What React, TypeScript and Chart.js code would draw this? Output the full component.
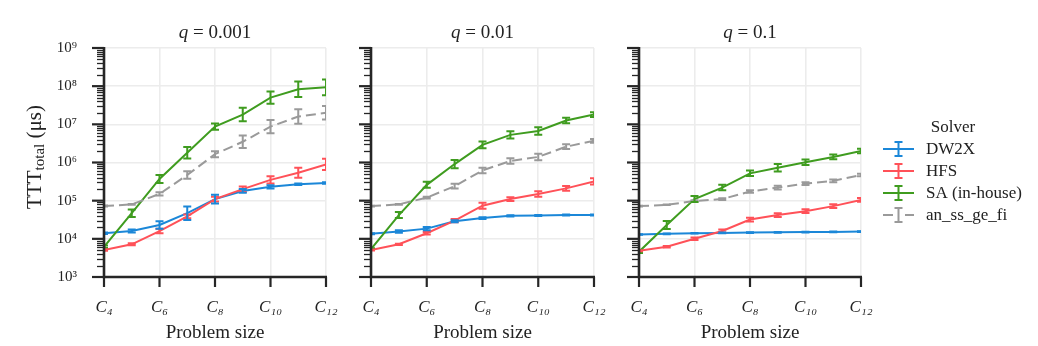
import React, { useEffect, useRef } from "react";
import { Chart, registerables } from "chart.js";

Chart.register(...registerables);

// ---------- data ----------
const sizes = [4, 5, 6, 7, 8, 9, 10, 11, 12];
const xTickSizes = [4, 6, 8, 10, 12];
const yTickExponents = [3, 4, 5, 6, 7, 8, 9];
const qValues = ["0.001", "0.01", "0.1"];
const solverNames = ["DW2X", "HFS", "SA (in-house)", "an_ss_ge_fi"];

// q = 0.001
const dw2x_q001 = [1.4e4, 1.6e4, 2.3e4, 4.7e4, 1.1e5, 1.8e5, 2.3e5, 2.7e5, 2.9e5];
const hfs_q001 = [5.1e3, 7.2e3, 1.6e4, 3.9e4, 1.1e5, 2.0e5, 3.5e5, 5.4e5, 8.9e5];
const sa_q001 = [6.2e3, 4.7e4, 3.7e5, 1.8e6, 8.7e6, 1.8e7, 5.0e7, 8.3e7, 9.3e7];
const ansf_q001 = [7.2e4, 8.0e4, 1.5e5, 4.7e5, 1.65e6, 3.5e6, 8.7e6, 1.6e7, 2.0e7];
const dw2x_q001_err = [1.05, 1.1, 1.25, 1.5, 1.3, 1.12, 1.1, 1.05, 1.05];
const hfs_q001_err = [1.04, 1.06, 1.15, 1.12, 1.15, 1.18, 1.25, 1.35, 1.4];
const sa_q001_err = [1.08, 1.25, 1.28, 1.42, 1.2, 1.5, 1.45, 1.6, 1.6];
const ansf_q001_err = [1.03, 1.03, 1.1, 1.25, 1.2, 1.45, 1.5, 1.55, 1.5];

// q = 0.01
const dw2x_q01 = [1.35e4, 1.55e4, 1.85e4, 2.9e4, 3.5e4, 4.0e4, 4.1e4, 4.2e4, 4.2e4];
const hfs_q01 = [5.1e3, 7.2e3, 1.4e4, 3.0e4, 7.4e4, 1.1e5, 1.5e5, 2.1e5, 3.2e5];
const sa_q01 = [5.4e3, 4.2e4, 2.6e5, 9.1e5, 2.9e6, 5.3e6, 6.7e6, 1.26e7, 1.8e7];
const ansf_q01 = [7.2e4, 8.0e4, 1.2e5, 2.4e5, 6.2e5, 1.1e6, 1.4e6, 2.6e6, 3.7e6];
const dw2x_q01_err = [1.03, 1.08, 1.1, 1.06, 1.05, 1.04, 1.03, 1.03, 1.03];
const hfs_q01_err = [1.03, 1.04, 1.08, 1.1, 1.2, 1.12, 1.18, 1.15, 1.2];
const sa_q01_err = [1.05, 1.2, 1.2, 1.28, 1.22, 1.25, 1.25, 1.18, 1.15];
const ansf_q01_err = [1.02, 1.03, 1.05, 1.15, 1.18, 1.18, 1.22, 1.15, 1.12];

// q = 0.1
const dw2x_q1 = [1.3e4, 1.35e4, 1.4e4, 1.43e4, 1.46e4, 1.48e4, 1.5e4, 1.52e4, 1.55e4];
const hfs_q1 = [4.9e3, 6.2e3, 1.0e4, 1.6e4, 3.2e4, 4.2e4, 5.3e4, 7.2e4, 1.05e5];
const sa_q1 = [4.6e3, 2.3e4, 1.1e5, 2.2e5, 5.2e5, 7.3e5, 1.02e6, 1.4e6, 2.0e6];
const ansf_q1 = [7.2e4, 7.8e4, 9.8e4, 1.1e5, 1.74e5, 2.2e5, 2.8e5, 3.3e5, 4.7e5];
const dw2x_q1_err = [1.02, 1.02, 1.02, 1.02, 1.02, 1.02, 1.02, 1.02, 1.02];
const hfs_q1_err = [1.03, 1.04, 1.08, 1.1, 1.12, 1.12, 1.12, 1.12, 1.12];
const sa_q1_err = [1.08, 1.28, 1.2, 1.18, 1.18, 1.25, 1.18, 1.15, 1.15];
const ansf_q1_err = [1.02, 1.02, 1.04, 1.05, 1.08, 1.12, 1.08, 1.08, 1.08];

const seriesByPanel = [
  [dw2x_q001, hfs_q001, sa_q001, ansf_q001],
  [dw2x_q01, hfs_q01, sa_q01, ansf_q01],
  [dw2x_q1, hfs_q1, sa_q1, ansf_q1],
];
const errByPanel = [
  [dw2x_q001_err, hfs_q001_err, sa_q001_err, ansf_q001_err],
  [dw2x_q01_err, hfs_q01_err, sa_q01_err, ansf_q01_err],
  [dw2x_q1_err, hfs_q1_err, sa_q1_err, ansf_q1_err],
];

// ---------- style / layout ----------
const W = 1038;
const H = 346;
const FONT = "'Liberation Serif', 'DejaVu Serif', serif";
const COLORS = ["#1b87d8", "#ff5158", "#3f9c1f", "#9a9a9a"];
const DASHES = [[], [], [], [10, 5]];
const AXIS_COLOR = "#262626";
const GRID_COLOR = "#ececec";
const TEXT_COLOR = "#222222";
const PLOT_LEFT = [104, 371, 639];
const PLOT_RIGHT = [326, 594, 861];
const PLOT_TOP = 48;
const PLOT_BOTTOM = 277;
const Y_W = 100;

const SUB = "₀₁₂₃₄₅₆₇₈₉";
const SUP = "⁰¹²³⁴⁵⁶⁷⁸⁹";
const toSub = (n: number) => String(n).split("").map((d) => SUB[+d]).join("");
const toSup = (n: number) => String(n).split("").map((d) => SUP[+d]).join("");

function makePlugin(idx: number) {
  return {
    id: "decor" + idx,
    afterDatasetsDraw(chart: any) {
      const ctx = chart.ctx;
      const xs = chart.scales.x;
      const ys = chart.scales.y;
      const area = chart.chartArea;
      ctx.save();
      ctx.beginPath();
      ctx.rect(area.left, area.top - 2, area.right - area.left, area.bottom - area.top + 4);
      ctx.clip();
      const order = [3, 2, 1, 0];
      order.forEach((s) => {
        const vals = seriesByPanel[idx][s];
        const errs = errByPanel[idx][s];
        ctx.strokeStyle = COLORS[s];
        ctx.lineWidth = 2;
        ctx.setLineDash([]);
        vals.forEach((v, j) => {
          const x = xs.getPixelForValue(sizes[j]);
          const y1 = ys.getPixelForValue(v / errs[j]);
          const y2 = ys.getPixelForValue(v * errs[j]);
          ctx.beginPath();
          ctx.moveTo(x, y1);
          ctx.lineTo(x, y2);
          ctx.moveTo(x - 4, y1);
          ctx.lineTo(x + 4, y1);
          ctx.moveTo(x - 4, y2);
          ctx.lineTo(x + 4, y2);
          ctx.stroke();
        });
      });
      ctx.restore();
    },
    afterDraw(chart: any) {
      const ctx = chart.ctx;
      const xs = chart.scales.x;
      const ys = chart.scales.y;
      const area = chart.chartArea;
      ctx.save();
      ctx.setLineDash([]);
      ctx.strokeStyle = AXIS_COLOR;
      // minor y ticks
      ctx.lineWidth = 1.3;
      for (let e = yTickExponents[0]; e < yTickExponents[yTickExponents.length - 1]; e++) {
        for (let m = 2; m <= 9; m++) {
          const y = Math.round(ys.getPixelForValue(m * Math.pow(10, e))) + 0.5;
          ctx.beginPath();
          ctx.moveTo(area.left - 7, y);
          ctx.lineTo(area.left, y);
          ctx.stroke();
        }
      }
      // major y ticks
      ctx.lineWidth = 2.2;
      yTickExponents.forEach((e) => {
        const y = ys.getPixelForValue(Math.pow(10, e));
        ctx.beginPath();
        ctx.moveTo(area.left - 12, y);
        ctx.lineTo(area.left, y);
        ctx.stroke();
      });
      // x ticks
      xTickSizes.forEach((v) => {
        const x = xs.getPixelForValue(v);
        ctx.beginPath();
        ctx.moveTo(x, area.bottom);
        ctx.lineTo(x, area.bottom + 10);
        ctx.stroke();
      });
      // spines
      ctx.lineWidth = 2.6;
      ctx.beginPath();
      ctx.moveTo(area.left, area.top - 1);
      ctx.lineTo(area.left, area.bottom);
      ctx.lineTo(area.right + 1, area.bottom);
      ctx.stroke();

      // panel title
      ctx.fillStyle = TEXT_COLOR;
      ctx.textBaseline = "middle";
      const cx = (area.left + area.right) / 2;
      ctx.font = `italic 19px ${FONT}`;
      const qw = ctx.measureText("q").width;
      ctx.font = `19px ${FONT}`;
      const rest = " = " + qValues[idx];
      const rw = ctx.measureText(rest).width;
      const sx = cx - (qw + rw) / 2;
      ctx.font = `italic 19px ${FONT}`;
      ctx.textAlign = "left";
      ctx.fillText("q", sx, 33);
      ctx.font = `19px ${FONT}`;
      ctx.fillText(rest, sx + qw, 33);

      // y axis title (first panel)
      if (idx === 0) {
        ctx.save();
        ctx.translate(35, 157);
        ctx.rotate(-Math.PI / 2);
        ctx.font = `21px ${FONT}`;
        const a = "TTT";
        const c = " (μs)";
        const aw = ctx.measureText(a).width;
        const cw = ctx.measureText(c).width;
        ctx.font = `15px ${FONT}`;
        const b = "total";
        const bw = ctx.measureText(b).width;
        let px = -(aw + bw + cw) / 2;
        ctx.font = `21px ${FONT}`;
        ctx.fillText(a, px, 0);
        px += aw;
        ctx.font = `15px ${FONT}`;
        ctx.fillText(b, px, 5);
        px += bw;
        ctx.font = `21px ${FONT}`;
        ctx.fillText(c, px, 0);
        ctx.restore();
      }

      // legend (last panel)
      if (idx === 2) {
        ctx.font = `17px ${FONT}`;
        ctx.textAlign = "center";
        ctx.fillText("Solver", 953, 128);
        ctx.textAlign = "left";
        solverNames.forEach((name, s) => {
          const y = 149 + s * 22;
          ctx.strokeStyle = COLORS[s];
          ctx.lineWidth = 2;
          ctx.beginPath();
          if (DASHES[s].length) {
            ctx.moveTo(883, y);
            ctx.lineTo(893, y);
            ctx.moveTo(905, y);
            ctx.lineTo(914, y);
          } else {
            ctx.moveTo(883, y);
            ctx.lineTo(914, y);
          }
          ctx.moveTo(898.5, y - 7);
          ctx.lineTo(898.5, y + 7);
          ctx.moveTo(894.5, y - 7);
          ctx.lineTo(902.5, y - 7);
          ctx.moveTo(894.5, y + 7);
          ctx.lineTo(902.5, y + 7);
          ctx.stroke();
          ctx.fillStyle = TEXT_COLOR;
          ctx.fillText(name, 926, y + 1);
        });
      }
      ctx.restore();
    },
  };
}

function makeConfig(idx: number): any {
  const datasets = solverNames.map((name, s) => ({
    label: name,
    data: sizes.map((x, j) => ({ x, y: seriesByPanel[idx][s][j] })),
    borderColor: COLORS[s],
    backgroundColor: COLORS[s],
    borderWidth: 2,
    borderDash: DASHES[s],
    pointRadius: 0,
    tension: 0,
    fill: false,
    order: 3 - s,
  }));
  return {
    type: "line",
    data: { datasets },
    plugins: [makePlugin(idx)],
    options: {
      animation: false,
      responsive: false,
      devicePixelRatio: 1,
      events: [],
      layout: {
        padding: {
          left: PLOT_LEFT[idx] - Y_W,
          right: W - PLOT_RIGHT[idx],
          top: PLOT_TOP,
          bottom: 0,
        },
      },
      plugins: { legend: { display: false }, tooltip: { enabled: false }, title: { display: false } },
      scales: {
        x: {
          type: "linear",
          min: 4,
          max: 12,
          afterBuildTicks: (s: any) => {
            s.ticks = xTickSizes.map((v) => ({ value: v }));
          },
          afterFit: (s: any) => {
            s.height = H - PLOT_BOTTOM;
          },
          grid: { color: GRID_COLOR, lineWidth: 1.6, drawTicks: false },
          border: { display: false },
          ticks: {
            padding: 20,
            maxRotation: 0,
            autoSkip: false,
            color: TEXT_COLOR,
            font: { family: FONT, size: 17, style: "italic" },
            callback: (v: number) => "C" + toSub(v),
          },
          title: {
            display: true,
            text: "Problem size",
            color: TEXT_COLOR,
            font: { family: FONT, size: 19 },
            padding: { top: 0, bottom: 2 },
          },
        },
        y: {
          type: "logarithmic",
          min: Math.pow(10, yTickExponents[0]),
          max: Math.pow(10, yTickExponents[yTickExponents.length - 1]),
          afterBuildTicks: (s: any) => {
            s.ticks = yTickExponents.map((e) => ({ value: Math.pow(10, e), major: true }));
          },
          afterFit: (s: any) => {
            s.width = Y_W;
          },
          grid: { color: GRID_COLOR, lineWidth: 1.6, drawTicks: false },
          border: { display: false },
          ticks: {
            display: idx === 0,
            padding: 27,
            color: TEXT_COLOR,
            font: { family: FONT, size: 15 },
            callback: (v: number) => "10" + toSup(Math.round(Math.log10(v))),
          },
        },
      },
    },
  };
}

function Panel({ idx }: { idx: number }) {
  const ref = useRef<HTMLCanvasElement | null>(null);
  useEffect(() => {
    if (!ref.current) return;
    const chart = new Chart(ref.current, makeConfig(idx));
    return () => chart.destroy();
  }, [idx]);
  return (
    <canvas
      ref={ref}
      width={W}
      height={H}
      style={{ position: "absolute", left: 0, top: 0, width: W, height: H }}
    />
  );
}

export default function App() {
  return (
    <div style={{ position: "absolute", left: 0, top: 0, width: W, height: H, background: "#fff" }}>
      <Panel idx={0} />
      <Panel idx={1} />
      <Panel idx={2} />
    </div>
  );
}
